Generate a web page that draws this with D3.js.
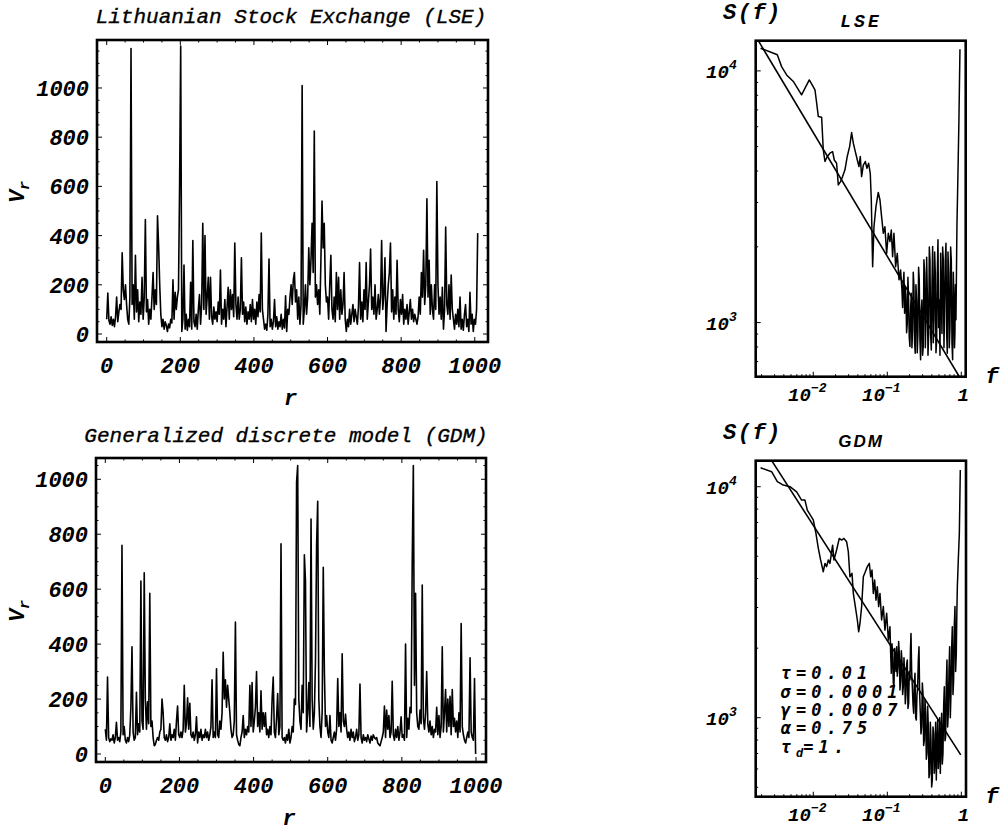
<!DOCTYPE html>
<html><head><meta charset="utf-8">
<script src="https://cdn.jsdelivr.net/npm/d3@7"></script>
<style>body{margin:0;background:#fff}svg{display:block}</style></head>
<body><svg id="c" width="1000" height="836"></svg>
<script>
// ---------- DATA ----------
const rStep = 3; // values sampled every 3 trades (r = 0, 3, 6, ...)
const lseVolume = [
60,166,55,40,70,35,60,30,70,150,
50,90,120,100,330,180,140,200,120,60,
40,150,1160,120,200,60,320,90,180,50,
130,80,230,60,150,465,90,140,40,100,
60,150,250,100,180,120,480,360,200,80,
30,60,20,50,35,10,40,25,60,45,
220,60,170,100,150,180,600,1170,10,60,
280,20,80,15,60,30,210,20,380,50,
30,80,20,100,160,40,120,450,100,400,
80,150,230,60,230,70,40,110,60,90,
50,130,80,260,40,100,60,140,30,110,
190,60,180,100,160,70,370,120,60,150,
60,100,310,80,130,50,110,40,90,60,
120,50,140,60,100,40,130,70,160,90,
410,100,60,20,40,15,80,305,30,60,
20,50,140,30,70,20,50,30,80,20,
60,25,155,10,100,80,150,200,120,220,
250,130,180,60,150,40,120,1010,40,100,
200,80,150,350,200,300,450,250,825,150,
200,120,180,80,300,540,350,450,200,130,
150,60,200,320,100,60,150,50,250,100,
230,60,180,80,120,250,60,10,60,30,
100,40,80,120,50,100,70,40,110,290,
60,130,50,180,100,290,60,130,200,345,
100,150,80,200,60,100,160,80,150,380,
100,160,310,10,120,200,250,370,90,180,
60,150,80,300,100,50,140,80,160,40,
100,60,120,40,90,140,60,100,50,80,
60,40,70,150,80,250,150,340,120,200,
550,150,300,80,200,100,60,200,100,620,
200,80,150,60,190,20,100,435,120,80,
200,60,240,100,60,20,80,40,100,30,
150,20,60,15,80,120,30,60,10,170,
40,80,10,60,40,100,410];

const gdmVolume = [
90,50,280,60,45,55,50,70,40,60,
115,50,60,45,80,760,70,100,50,40,
60,45,70,170,390,80,50,60,225,70,
110,80,630,120,90,660,200,90,190,110,
585,100,120,60,30,35,50,60,50,80,
90,200,150,60,50,70,45,60,110,50,
70,60,90,50,120,175,70,60,80,60,
90,250,80,110,205,90,185,70,60,80,
50,70,135,40,80,60,90,50,70,60,
90,60,80,50,70,100,270,60,80,60,
310,70,60,120,90,150,370,200,270,170,
250,200,150,90,60,70,120,480,70,50,
35,30,60,80,140,60,90,70,100,80,
250,100,260,80,120,170,300,100,150,80,
230,90,150,100,150,70,90,60,100,70,
200,280,80,60,130,220,70,100,765,60,
50,60,40,70,50,90,40,60,100,80,
200,180,990,1050,200,120,90,250,150,725,
630,80,150,260,100,855,200,90,150,340,
760,920,200,100,60,150,680,300,100,140,
80,60,140,50,40,60,80,50,90,275,
100,150,80,365,120,100,145,90,60,80,
50,90,60,80,45,60,90,50,70,255,
60,40,70,50,60,45,70,55,40,65,
50,70,60,55,60,40,35,30,45,60,
80,175,60,160,90,140,60,80,265,70,
50,90,60,100,50,80,135,60,70,50,
400,60,130,90,170,150,700,1050,250,585,
150,100,90,160,110,615,130,90,150,300,
110,80,120,70,100,60,90,80,170,70,
140,60,100,390,80,150,235,80,200,100,
210,70,235,100,130,80,120,60,150,80,
475,100,70,50,40,60,80,60,350,80,
60,50,275,0];

// spectra: [log10 f, log10 S]
const lseSpectrum = [
[-2.712,4.090],[-2.563,4.073],[-2.486,4.064],[-2.428,4.017],[-2.360,3.984],[-2.270,3.958],[-2.158,3.905],
[-2.054,3.964],[-1.977,3.925],[-1.932,3.819],[-1.887,3.816],[-1.865,3.686],[-1.842,3.640],[-1.811,3.660],
[-1.775,3.673],[-1.739,3.679],[-1.716,3.646],[-1.685,3.633],[-1.662,3.547],[-1.631,3.560],[-1.604,3.580],
[-1.572,3.607],[-1.541,3.660],[-1.509,3.699],[-1.482,3.755],[-1.459,3.713],[-1.432,3.679],[-1.405,3.646],
[-1.383,3.620],[-1.365,3.660],[-1.347,3.580],[-1.324,3.626],[-1.297,3.640],[-1.275,3.613],[-1.252,3.633],
[-1.230,3.593],[-1.216,3.487],[-1.198,3.222],[-1.180,3.381],[-1.153,3.461],[-1.122,3.517],[-1.099,3.487],
[-1.077,3.421],[-1.054,3.355],[-1.032,3.381],[-1.009,3.275],[-0.986,3.355],[-0.964,3.322],[-0.946,3.368],
[-0.928,3.262],[-0.910,3.355],[-0.887,3.222],[-0.865,3.275],[-0.842,3.170],[-0.820,3.209],
[-0.802,3.130],[-0.793,3.060],[-0.784,3.156],[-0.775,3.200],[-0.766,3.037],[-0.757,3.140],[-0.748,3.103],
[-0.739,2.960],[-0.730,2.997],[-0.721,3.180],[-0.712,3.090],[-0.703,2.940],[-0.694,2.905],[-0.685,3.050],
[-0.676,3.117],[-0.667,2.900],[-0.658,2.971],[-0.649,3.200],[-0.640,3.143],[-0.631,2.920],[-0.622,2.878],
[-0.613,3.150],[-0.604,3.090],[-0.595,2.880],[-0.586,2.957],[-0.577,3.220],[-0.568,3.170],[-0.559,2.930],
[-0.550,2.852],[-0.541,3.050],[-0.532,3.090],[-0.523,2.870],[-0.514,2.905],[-0.505,3.250],[-0.495,3.196],
[-0.486,2.900],[-0.477,3.011],[-0.468,3.260],[-0.459,3.117],[-0.450,2.870],[-0.441,2.957],[-0.432,3.300],
[-0.423,3.249],[-0.414,2.950],[-0.405,2.891],[-0.396,3.150],[-0.387,3.302],[-0.378,2.920],[-0.369,3.011],
[-0.360,3.280],[-0.351,3.196],[-0.342,2.880],[-0.333,2.931],[-0.324,3.200],[-0.315,3.329],[-0.306,2.980],
[-0.297,3.090],[-0.288,2.870],[-0.279,3.275],[-0.270,3.100],[-0.261,2.957],[-0.252,3.300],[-0.243,3.249],
[-0.234,2.900],[-0.225,3.064],[-0.216,3.250],[-0.207,3.315],[-0.198,2.960],[-0.189,2.878],[-0.180,3.280],
[-0.171,3.196],[-0.162,2.900],[-0.153,2.984],[-0.144,3.300],[-0.135,3.249],[-0.126,2.920],[-0.117,2.852],
[-0.108,3.200],[-0.099,3.090],[-0.092,2.900],[-0.086,2.957],[-0.079,3.150],[-0.072,3.011],
[-0.059,3.382],[-0.045,3.593],[-0.032,3.805],[-0.018,4.086]];

const gdmSpectrum = [
[-2.712,4.082],[-2.563,4.065],[-2.486,4.022],[-2.405,4.007],[-2.315,4.000],[-2.225,3.978],[-2.158,3.942],
[-2.113,3.942],[-2.081,3.899],[-2.000,3.856],[-1.964,3.798],[-1.932,3.733],[-1.901,3.683],[-1.865,3.632],
[-1.842,3.668],[-1.820,3.654],[-1.797,3.683],[-1.775,3.668],[-1.739,3.747],[-1.721,3.683],[-1.685,3.726],
[-1.649,3.776],[-1.617,3.769],[-1.586,3.776],[-1.550,3.762],[-1.527,3.719],[-1.505,3.610],[-1.477,3.625],
[-1.459,3.538],[-1.432,3.481],[-1.405,3.423],[-1.387,3.372],[-1.369,3.409],[-1.347,3.481],[-1.324,3.610],
[-1.297,3.632],[-1.270,3.654],[-1.243,3.668],[-1.225,3.610],[-1.207,3.639],[-1.189,3.538],[-1.171,3.596],
[-1.153,3.509],[-1.135,3.567],[-1.117,3.481],[-1.099,3.538],[-1.077,3.423],[-1.054,3.481],[-1.032,3.379],
[-1.009,3.452],[-0.986,3.336],
[-0.964,3.394],[-0.955,3.280],[-0.946,3.192],[-0.937,3.320],[-0.928,3.278],[-0.919,3.150],[-0.910,3.134],
[-0.901,3.300],[-0.892,3.250],[-0.883,3.200],[-0.874,3.307],[-0.865,3.180],[-0.856,3.221],[-0.847,3.330],
[-0.838,3.278],[-0.829,3.120],[-0.820,3.163],[-0.811,3.290],[-0.802,3.250],[-0.793,3.100],[-0.784,3.134],
[-0.775,3.260],[-0.766,3.192],[-0.757,3.060],[-0.748,3.105],[-0.739,3.230],[-0.730,3.250],[-0.721,3.040],
[-0.712,3.062],[-0.703,3.200],[-0.694,3.163],[-0.687,3.300],[-0.680,3.365],[-0.671,3.200],[-0.662,3.134],
[-0.653,3.060],[-0.644,3.019],[-0.635,3.150],[-0.626,3.192],[-0.617,3.000],[-0.608,2.990],[-0.599,3.100],
[-0.590,3.134],[-0.581,3.250],[-0.572,3.307],[-0.563,3.100],[-0.554,3.019],[-0.545,2.930],[-0.536,2.961],
[-0.527,3.150],[-0.518,3.105],[-0.509,2.880],[-0.500,2.903],[-0.491,3.080],[-0.482,3.019],[-0.473,2.820],
[-0.464,2.846],[-0.455,3.050],[-0.446,2.961],[-0.437,2.740],[-0.428,2.759],[-0.419,2.980],[-0.410,2.903],
[-0.401,2.700],[-0.392,2.730],[-0.383,2.960],[-0.374,2.932],[-0.365,2.760],[-0.356,2.817],[-0.347,2.980],
[-0.338,2.730],[-0.329,2.880],[-0.320,2.990],[-0.311,2.780],[-0.302,2.846],[-0.293,3.000],[-0.284,2.759],
[-0.275,2.900],[-0.266,3.019],[-0.257,2.800],[-0.248,2.846],[-0.239,3.050],[-0.230,3.134],[-0.221,2.900],
[-0.212,2.918],[-0.203,3.150],[-0.194,3.250],[-0.185,2.960],[-0.176,3.019],[-0.167,3.200],[-0.158,3.307],
[-0.149,3.000],[-0.140,3.105],[-0.131,3.300],[-0.122,3.394],[-0.113,3.100],[-0.104,3.163],[-0.095,3.400],
[-0.086,3.481],[-0.077,3.200],[-0.068,3.278],[-0.061,3.450],[-0.054,3.567],[-0.041,3.683],[-0.027,3.798],
[-0.014,4.072]];

// power-law fit lines (end points, log10 f, log10 S)
const lseFit = [[-2.743,4.120],[-0.027,2.785]];
const gdmFit = [[-2.562,4.113],[-0.008,2.839]];

const timeTicks = [0,200,400,600,800,1000];
const volumeTicks = [0,200,400,600,800,1000];
const freqTicks = [0.01,0.1,1];
const specTicks = [1000,10000];
const gdmParams = [["τ","","=0.01"],["σ","","=0.0001"],["γ","","=0.0007"],["α","","=0.75"],["τ","d","=1."]];

// ---------- DRAW ----------
const svg = d3.select("#c");
const MONO = "'Liberation Mono','Courier New',monospace";
let clipId = 0;

function timePanel(o) {
  const x = d3.scaleLinear().domain(o.xd).range([o.L, o.R]);
  const y = d3.scaleLinear().domain(o.yd).range([o.B, o.T]);
  const g = svg.append("g");
  const id = "clip" + (clipId++);
  g.append("clipPath").attr("id", id).append("rect")
    .attr("x", o.L).attr("y", o.T).attr("width", o.R - o.L).attr("height", o.B - o.T);
  const data = o.vals.map((v, i) => ({r: i * rStep, v}));
  g.append("path").datum(data).attr("clip-path", `url(#${id})`)
    .attr("fill", "none").attr("stroke", "#000").attr("stroke-width", 1.6).attr("stroke-linejoin", "round")
    .attr("d", d3.line().x(d => x(d.r)).y(d => y(d.v)));
  const tk = g.append("g").attr("stroke", "#000").attr("stroke-width", 1);
  d3.range(0, 1001, 50).forEach(t => {
    const l = t % 200 === 0 ? 5 : 2.5;
    tk.append("line").attr("x1", x(t)).attr("x2", x(t)).attr("y1", o.B).attr("y2", o.B - l);
    tk.append("line").attr("x1", x(t)).attr("x2", x(t)).attr("y1", o.T).attr("y2", o.T + l);
  });
  d3.range(0, o.yd[1], 50).forEach(t => {
    const l = t % 200 === 0 ? 5 : 2.5;
    tk.append("line").attr("y1", y(t)).attr("y2", y(t)).attr("x1", o.L).attr("x2", o.L + l);
    tk.append("line").attr("y1", y(t)).attr("y2", y(t)).attr("x1", o.R).attr("x2", o.R - l);
  });
  g.append("rect").attr("x", o.L).attr("y", o.T).attr("width", o.R - o.L).attr("height", o.B - o.T)
    .attr("fill", "none").attr("stroke", "#000").attr("stroke-width", 2.6);
  const lab = g.append("g").attr("font-family", MONO).attr("font-weight", "bold").attr("font-style", "italic")
    .attr("font-size", 22).attr("fill", "#000");
  timeTicks.forEach(t => lab.append("text").attr("x", x(t)).attr("y", o.B + 31).attr("text-anchor", "middle").text(t));
  volumeTicks.forEach(t => lab.append("text").attr("x", o.L - 8).attr("y", y(t) + 8).attr("text-anchor", "end").text(t));
  lab.append("text").attr("x", (o.L + o.R) / 2 - 2).attr("y", o.B + 63).attr("text-anchor", "middle").text("r");
  const vt = lab.append("text").attr("transform", `translate(${o.vlX},${o.vlY}) rotate(-90)`).attr("text-anchor", "middle");
  vt.append("tspan").text("V");
  vt.append("tspan").attr("font-size", 15).attr("dy", 5).text("r");
  g.append("text").attr("x", o.titleX).attr("y", o.titleY).attr("text-anchor", "middle")
    .attr("font-family", MONO).attr("font-style", "italic").attr("font-size", 21)
    .attr("stroke", "#000").attr("stroke-width", 0.35).text(o.title);
}

function specPanel(o) {
  const x = d3.scaleLog().domain(o.xd.map(v => Math.pow(10, v))).range([o.L, o.R]);
  const y = d3.scaleLog().domain(o.yd.map(v => Math.pow(10, v))).range([o.B, o.T]);
  const g = svg.append("g");
  const id = "clip" + (clipId++);
  g.append("clipPath").attr("id", id).append("rect")
    .attr("x", o.L).attr("y", o.T).attr("width", o.R - o.L).attr("height", o.B - o.T);
  if (o.params) {
    const pt = g.append("g").attr("font-family", "'DejaVu Sans Mono',monospace").attr("font-style", "italic")
      .attr("font-weight", "bold").attr("font-size", 17).attr("letter-spacing", 5).attr("fill", "#000");
    o.params.forEach((p, i) => {
      const t = pt.append("text").attr("x", o.pX).attr("y", o.pY + i * 18.3);
      t.append("tspan").text(p[0]);
      if (p[1]) t.append("tspan").attr("font-size", 12).attr("dy", 4).attr("letter-spacing", 0).text(p[1]);
      t.append("tspan").attr("dy", p[1] ? -4 : 0).text(p[2]);
    });
  }
  const line = d3.line().x(d => x(Math.pow(10, d[0]))).y(d => y(Math.pow(10, d[1])));
  g.append("path").datum(o.spec).attr("clip-path", `url(#${id})`).attr("fill", "none")
    .attr("stroke", "#000").attr("stroke-width", 1.5).attr("stroke-linejoin", "round").attr("d", line);
  g.append("path").datum(o.fit).attr("clip-path", `url(#${id})`).attr("fill", "none")
    .attr("stroke", "#000").attr("stroke-width", 1.6).attr("d", line);
  const tk = g.append("g").attr("stroke", "#000").attr("stroke-width", 1);
  [0.001, 0.01, 0.1, 1].forEach(dec => {
    for (let m = 1; m < 10; m++) {
      const f = dec * m;
      if (f < x.domain()[0] || f > x.domain()[1]) continue;
      const l = m === 1 ? 5 : 2.5;
      tk.append("line").attr("x1", x(f)).attr("x2", x(f)).attr("y1", o.B).attr("y2", o.B - l);
    }
  });
  [100, 1000, 10000].forEach(dec => {
    for (let m = 1; m < 10; m++) {
      const s = dec * m;
      if (s < y.domain()[0] || s > y.domain()[1]) continue;
      const l = m === 1 ? 5 : 2.5;
      tk.append("line").attr("y1", y(s)).attr("y2", y(s)).attr("x1", o.L).attr("x2", o.L + l);
    }
  });
  g.append("rect").attr("x", o.L).attr("y", o.T).attr("width", o.R - o.L).attr("height", o.B - o.T)
    .attr("fill", "none").attr("stroke", "#000").attr("stroke-width", 2.6);
  const lab = g.append("g").attr("font-family", MONO).attr("font-weight", "bold").attr("font-style", "italic")
    .attr("font-size", 19).attr("fill", "#000");
  freqTicks.forEach(f => {
    const e = Math.round(Math.log10(f));
    const t = lab.append("text").attr("x", x(f) - (e === 0 ? -2 : 6)).attr("y", o.B + 24).attr("text-anchor", "middle");
    if (e === 0) t.text("1");
    else { t.append("tspan").text("10"); t.append("tspan").attr("font-size", 13).attr("dy", -9).text(String(e).replace("-", "−")); }
  });
  specTicks.forEach(s => {
    const e = Math.round(Math.log10(s));
    const t = lab.append("text").attr("x", o.L - 19).attr("y", y(s) + 7).attr("text-anchor", "end");
    t.append("tspan").text("10"); t.append("tspan").attr("font-size", 13).attr("dy", -9).text(e);
  });
  lab.append("text").attr("x", 723).attr("y", o.T - 22).attr("font-size", 22).attr("letter-spacing", 1.5).text("S(f)");
  lab.append("text").attr("x", 992).attr("y", o.B + 6).attr("text-anchor", "middle").attr("font-size", 22).text("f");
  const tt = lab.append("text").attr("x", 861).attr("y", o.T - 14).attr("text-anchor", "middle")
    .attr("font-size", 18).attr("letter-spacing", 3).text(o.title);
  if (o.sans) tt.attr("font-family", "'Liberation Sans',Arial,sans-serif").attr("font-size", 17).attr("letter-spacing", 2);
}

timePanel({vals: lseVolume, L: 97, R: 488, T: 40, B: 342, xd: [-26.4, 1036], yd: [-32.5, 1195],
  title: "Lithuanian Stock Exchange (LSE)", titleX: 291, titleY: 23, vlX: 24, vlY: 192});
timePanel({vals: gdmVolume, L: 96, R: 486, T: 458, B: 762, xd: [-25.1, 1027], yd: [-29.1, 1077.5],
  title: "Generalized discrete model (GDM)", titleX: 286, titleY: 442, vlX: 24, vlY: 611});
specPanel({spec: lseSpectrum, fit: lseFit, L: 755.7, R: 965.7, T: 40.7, B: 376.7,
  xd: [-2.778, 0.0595], yd: [2.785, 4.12], title: "LSE"});
specPanel({spec: gdmSpectrum, fit: gdmFit, L: 755.7, R: 966, T: 460.7, B: 796.7,
  xd: [-2.778, 0.063], yd: [2.658, 4.1126], title: "GDM", sans: true,
  params: gdmParams, pX: 780.7, pY: 679.3});
</script></body></html>
